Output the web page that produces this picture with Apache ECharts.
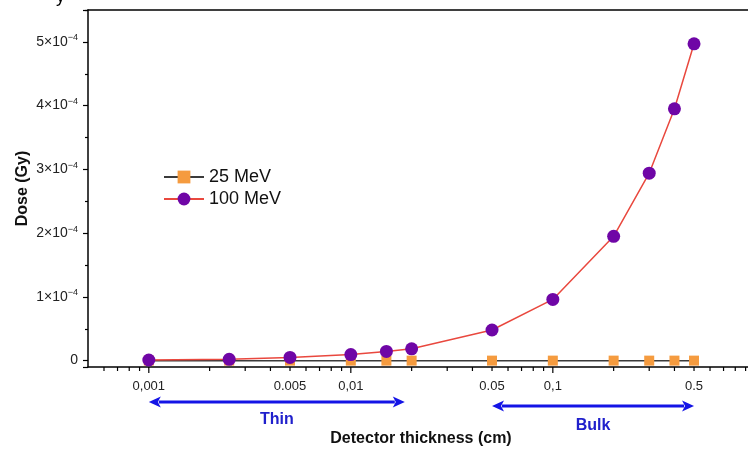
<!DOCTYPE html>
<html>
<head>
<meta charset="utf-8">
<script src="https://cdn.jsdelivr.net/npm/echarts@6/dist/echarts.min.js"></script>
<style>html,body{margin:0;padding:0;background:#fff;}#c{width:748px;height:461px;}</style>
</head>
<body>
<div id="c"></div>
<script>
// ---- data ----
const thickness = [0.001, 0.0025, 0.005, 0.01, 0.015, 0.02, 0.05, 0.1, 0.2, 0.3, 0.4, 0.5];
const dose25 = [0, 0, 0, 0, 0, 0, 0, 0, 0, 0, 0, 0];
const dose100 = [1.0e-6, 2.0e-6, 5.0e-6, 9.5e-6, 1.45e-5, 1.85e-5, 4.8e-5, 9.6e-5, 1.95e-4, 2.94e-4, 3.95e-4, 4.97e-4];
const xTickLabelValues = [0.001, 0.005, 0.01, 0.05, 0.1, 0.5];
const xTickLabels = ['0,001', '0.005', '0,01', '0.05', '0,1', '0.5'];
const xMajorTicks = [0.001, 0.01, 0.1];
const xMinorTicks = [0.0006, 0.0007, 0.0008, 0.0009,
  0.002, 0.003, 0.004, 0.005, 0.006, 0.007, 0.008, 0.009,
  0.02, 0.03, 0.04, 0.05, 0.06, 0.07, 0.08, 0.09,
  0.2, 0.3, 0.4, 0.5, 0.6, 0.7, 0.8, 0.9];
const arrowStart = [0.001, 0.05];
const arrowEnd = [0.0185, 0.5];
const arrowLabels = ['Thin', 'Bulk'];
const seriesNames = ['25 MeV', '100 MeV'];
const X_MIN = 0.0005, X_MAX = 0.925;
const Y_MIN = -1e-5, Y_MAX = 5.5e-4;

const FONT = "'Liberation Sans', Arial, sans-serif";
const chart = echarts.init(document.getElementById('c'), null, {renderer: 'canvas'});

const tickData = xMajorTicks.map(v => [v, Y_MIN, 1]).concat(xMinorTicks.map(v => [v, Y_MIN, 0]));
const labelData = xTickLabelValues.map((v, i) => [v, Y_MIN, i]);
const arrowData = arrowStart.map((v, i) => [v, Y_MIN, arrowEnd[i], i]);
const arrowDrop = [35, 39];
const arrowTextDrop = [18, 20];

chart.setOption({
  animation: false,
  backgroundColor: '#fff',
  textStyle: {fontFamily: FONT},
  grid: {left: 88, right: 0, top: 10, bottom: 94, show: false},
  graphic: [{type: 'text', left: 56, top: -12, style: {text: 'y', font: '18px ' + FONT, fill: '#000'}}],
  legend: {
    orient: 'vertical', left: 158, top: 163, itemWidth: 40, itemHeight: 16, itemGap: 4,
    data: seriesNames,
    textStyle: {fontSize: 18, color: '#111', fontFamily: FONT}
  },
  xAxis: [{
    type: 'log', logBase: 10, min: X_MIN, max: X_MAX,
    name: 'Detector thickness (cm)', nameLocation: 'middle', nameGap: 64,
    nameTextStyle: {fontSize: 16, fontWeight: 'bold', color: '#111', fontFamily: FONT, padding: [0, 0, 0, 6]},
    axisLine: {show: true, onZero: false, lineStyle: {color: '#000', width: 1.5}},
    axisTick: {show: false}, axisLabel: {show: false}, splitLine: {show: false}, minorTick: {show: false}
  }, {
    type: 'log', logBase: 10, min: X_MIN, max: X_MAX, position: 'top',
    axisLine: {show: true, onZero: false, lineStyle: {color: '#000', width: 1.5}},
    axisTick: {show: false}, axisLabel: {show: false}, splitLine: {show: false}, minorTick: {show: false}
  }],
  yAxis: {
    type: 'value', min: Y_MIN, max: Y_MAX, splitNumber: 5,
    name: 'Dose (Gy)', nameLocation: 'middle', nameGap: 57, nameMoveOverlap: false,
    nameTextStyle: {fontSize: 16, fontWeight: 'bold', color: '#111', fontFamily: FONT},
    axisLine: {show: true, lineStyle: {color: '#000', width: 1.5}},
    axisTick: {show: true, length: 5, lineStyle: {color: '#000', width: 1.2}},
    minorTick: {show: true, splitNumber: 2, length: 3, lineStyle: {color: '#000', width: 1.2}},
    splitLine: {show: false},
    axisLabel: {
      showMinLabel: false, showMaxLabel: false, margin: 10, fontSize: 14, color: '#222', fontFamily: FONT,
      formatter: function (v) {
        if (Math.abs(v) < 1e-12) return '0';
        const n = Math.round(v / 1e-4);
        return n + '×10{sup|−4}';
      },
      rich: {sup: {fontSize: 9, padding: [0, 0, 8, 0], color: '#222', fontFamily: FONT}}
    }
  },
  series: [
    {
      name: seriesNames[0], type: 'line', z: 3,
      data: thickness.map((v, i) => [v, dose25[i]]),
      symbol: 'rect', symbolSize: 10,
      itemStyle: {color: '#f59b3f'},
      lineStyle: {color: '#3b3b3b', width: 1.5}
    },
    {
      name: seriesNames[1], type: 'line', z: 4,
      data: thickness.map((v, i) => [v, dose100[i]]),
      symbol: 'circle', symbolSize: 13,
      itemStyle: {color: '#6f06a6'},
      lineStyle: {color: '#e9483e', width: 1.5}
    },
    {
      name: 'xticks', type: 'custom', silent: true, clip: false, z: 5,
      data: tickData, encode: {x: 0, y: 1},
      renderItem: function (params, api) {
        const p = api.coord([api.value(0), api.value(1)]);
        const len = api.value(2) ? 6 : 4;
        return {type: 'line', shape: {x1: p[0], y1: p[1], x2: p[0], y2: p[1] + len}, style: {stroke: '#000', lineWidth: 1.2}};
      }
    },
    {
      name: 'xlabels', type: 'custom', silent: true, clip: false, z: 5,
      data: labelData, encode: {x: 0, y: 1},
      renderItem: function (params, api) {
        const p = api.coord([api.value(0), api.value(1)]);
        return {type: 'text', x: p[0], y: p[1] + 13, style: {text: xTickLabels[api.value(2)], font: '13px ' + FONT, fill: '#222', textAlign: 'center', textVerticalAlign: 'top'}};
      }
    },
    {
      name: 'arrows', type: 'custom', silent: true, clip: false, z: 5,
      data: arrowData, encode: {x: 0, y: 1},
      renderItem: function (params, api) {
        const i = api.value(3);
        const p1 = api.coord([api.value(0), api.value(1)]);
        const p2 = api.coord([api.value(2), api.value(1)]);
        const y = p1[1] + arrowDrop[i];
        const h = 12, w = 5.5;
        const col = '#1414e6';
        return {type: 'group', children: [
          {type: 'line', shape: {x1: p1[0] + h - 2, y1: y, x2: p2[0] - h + 2, y2: y}, style: {stroke: col, lineWidth: 3}},
          {type: 'polygon', shape: {points: [[p1[0], y], [p1[0] + h, y - w], [p1[0] + h - 3, y], [p1[0] + h, y + w]]}, style: {fill: col}},
          {type: 'polygon', shape: {points: [[p2[0], y], [p2[0] - h, y - w], [p2[0] - h + 3, y], [p2[0] - h, y + w]]}, style: {fill: col}},
          {type: 'text', x: (p1[0] + p2[0]) / 2, y: y + arrowTextDrop[i], style: {text: arrowLabels[i], font: 'bold 16px ' + FONT, fill: '#2020cc', textAlign: 'center', textVerticalAlign: 'middle'}}
        ]};
      }
    }
  ]
});
</script>
</body>
</html>
